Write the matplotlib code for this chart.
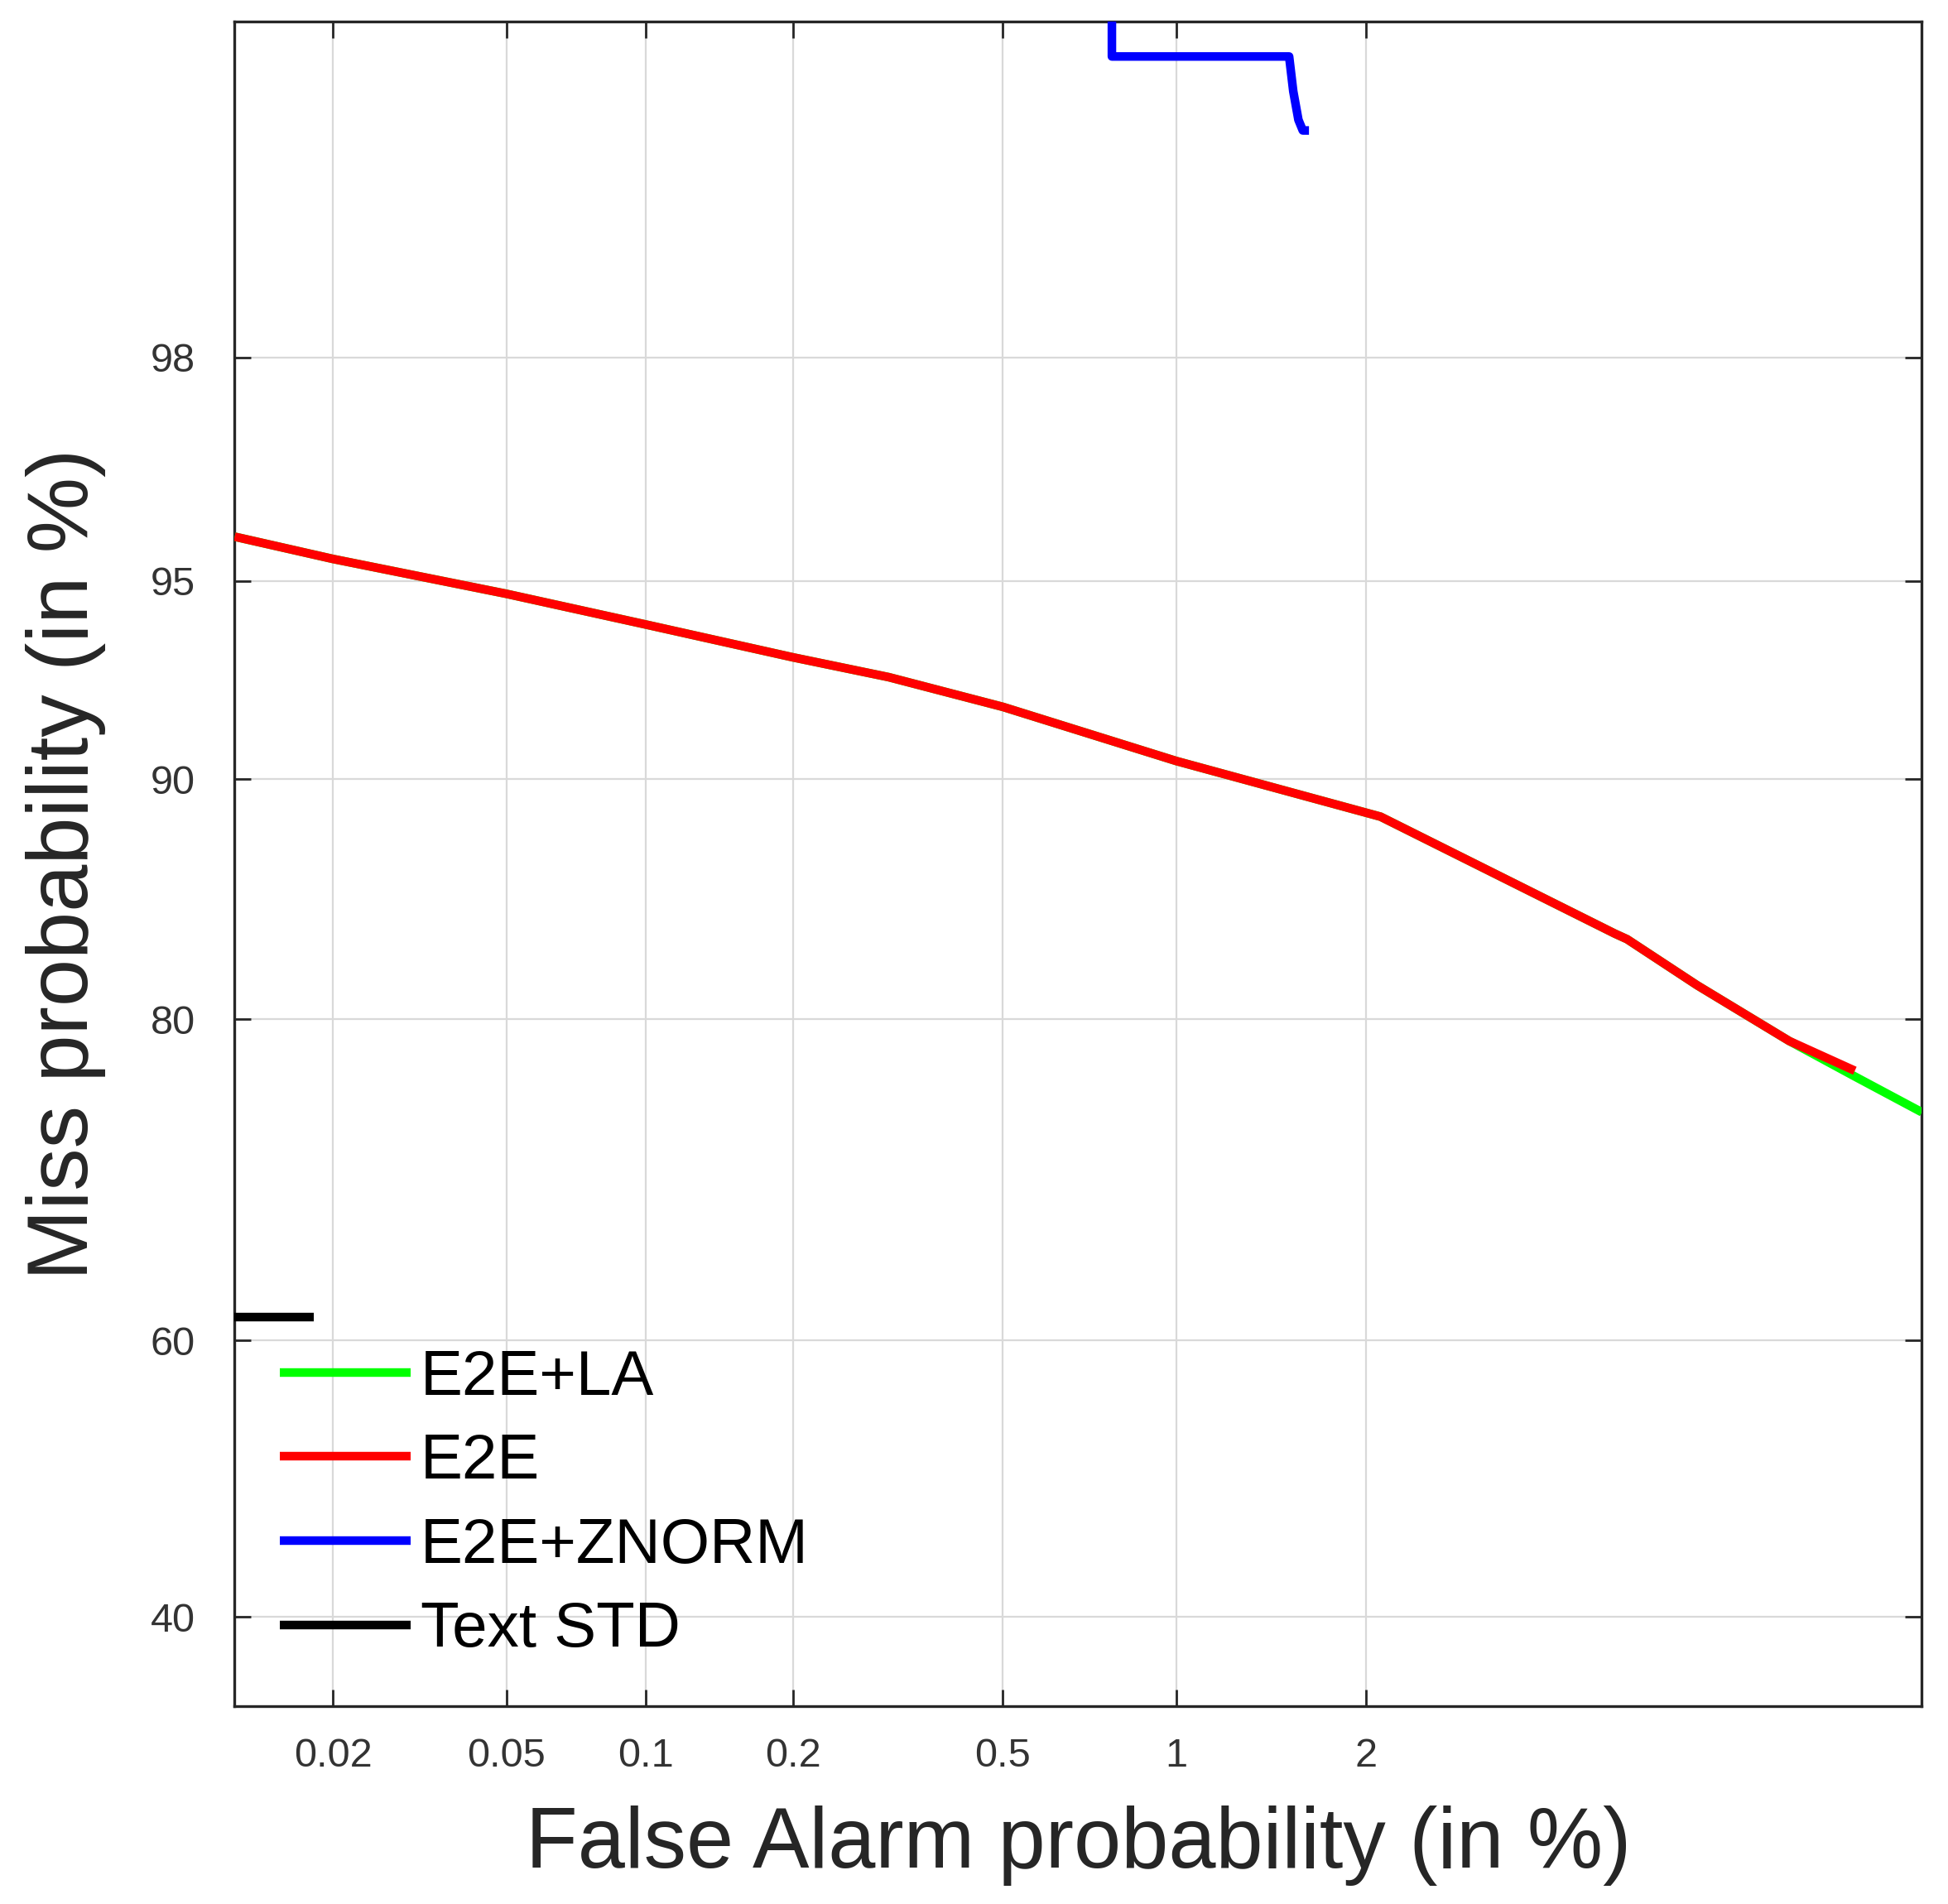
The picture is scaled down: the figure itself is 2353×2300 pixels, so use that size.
import numpy as np
import matplotlib
matplotlib.use("Agg")
import matplotlib.pyplot as plt
from matplotlib.ticker import FixedLocator, FixedFormatter, NullLocator
from statistics import NormalDist

plt.rcParams['font.family'] = ['Liberation Sans', 'DejaVu Sans']

# ---------------- data (percent) ----------------
la_fa = [0.0116, 0.02, 0.05, 0.1, 0.2, 0.307, 0.5, 1.0, 2.105, 4.50, 4.67, 5.74, 7.43, 8.85, 10.5]
la_miss = [95.78, 95.40, 94.75, 94.12, 93.38, 92.90, 92.13, 90.57, 88.74, 84.1, 83.85, 81.7, 78.87, 76.94, 74.9]

e2e_fa = [0.0116, 0.02, 0.05, 0.1, 0.2, 0.307, 0.5, 1.0, 2.105, 4.50, 4.67, 5.74, 7.43, 8.85]
e2e_miss = [95.78, 95.40, 94.75, 94.12, 93.38, 92.90, 92.13, 90.57, 88.74, 84.1, 83.85, 81.7, 78.87, 77.26]

znorm_fa = [0.778, 0.778, 1.523, 1.546, 1.575, 1.600, 1.636]
znorm_miss = [99.9, 99.541, 99.541, 99.448, 99.36, 99.324, 99.324]

std_fa = [0.010, 0.018]
std_miss = [61.63, 61.63]

x_ticks = [0.02, 0.05, 0.1, 0.2, 0.5, 1, 2]
x_tick_labels = ['0.02', '0.05', '0.1', '0.2', '0.5', '1', '2']
y_ticks = [40, 60, 80, 90, 95, 98]
y_tick_labels = ['40', '60', '80', '90', '95', '98']

series_labels = ['E2E+LA', 'E2E', 'E2E+ZNORM', 'Text STD']
series_colors = ['#00ff00', '#ff0000', '#0000ff', '#000000']

# ---------------- probit scale ----------------
_nd = NormalDist()

def _fwd_scalar(p):
    q = min(max(p / 100.0, 1e-9), 1 - 1e-9)
    return _nd.inv_cdf(q)

def _inv_scalar(z):
    return _nd.cdf(z) * 100.0

def fwd(a):
    a = np.asarray(a, dtype=float)
    return np.vectorize(_fwd_scalar, otypes=[float])(a) if a.size else a

def inv(a):
    a = np.asarray(a, dtype=float)
    return np.vectorize(_inv_scalar, otypes=[float])(a) if a.size else a

# ---------------- figure ----------------
fig = plt.figure(figsize=(23.53, 23.0), dpi=100)
ax = fig.add_axes([0.1203, 0.1039, 0.8663, 0.8848])
ax.set_xscale('function', functions=(fwd, inv))
ax.set_yscale('function', functions=(fwd, inv))

lw = 7.5
xs = [la_fa, e2e_fa, znorm_fa, std_fa]
ys = [la_miss, e2e_miss, znorm_miss, std_miss]
for x, y, lab, c in zip(xs, ys, series_labels, series_colors):
    ax.plot(x, y, color=c, lw=lw, label=lab, solid_capstyle='butt', zorder=3)

ax.set_xlim(0.01158, 10.50)
ax.set_ylim(33.85, 99.62)

ax.xaxis.set_major_locator(FixedLocator(x_ticks))
ax.xaxis.set_major_formatter(FixedFormatter(x_tick_labels))
ax.yaxis.set_major_locator(FixedLocator(y_ticks))
ax.yaxis.set_major_formatter(FixedFormatter(y_tick_labels))
ax.xaxis.set_minor_locator(NullLocator())
ax.yaxis.set_minor_locator(NullLocator())

spine_col = '#262626'
for s in ax.spines.values():
    s.set_linewidth(2.4)
    s.set_color(spine_col)

ax.tick_params(axis='both', which='major', direction='in', length=14.4, width=2.0,
               color=spine_col, labelcolor='#333333', labelsize=35,
               top=True, right=True)
ax.tick_params(axis='x', pad=27)
ax.tick_params(axis='y', pad=34)

ax.grid(True, color='#d9d9d9', lw=1.6, zorder=0)
ax.set_axisbelow(True)

ax.set_xlabel('False Alarm probability (in %)', fontsize=74, color='#262626')
ax.set_ylabel('Miss probability (in %)', fontsize=74, color='#262626')
ax.xaxis.set_label_coords(0.5, -0.059)
ax.yaxis.set_label_coords(-0.076, 0.5)

leg = ax.legend(loc='upper left', bbox_to_anchor=(0.027, 0.212), frameon=False,
                fontsize=55, handlelength=2.07, handletextpad=0.15,
                labelspacing=0.4, borderpad=0, borderaxespad=0)
for t in leg.get_texts():
    t.set_color('#000000')

fig.savefig('out.png', dpi=100, facecolor='white')
